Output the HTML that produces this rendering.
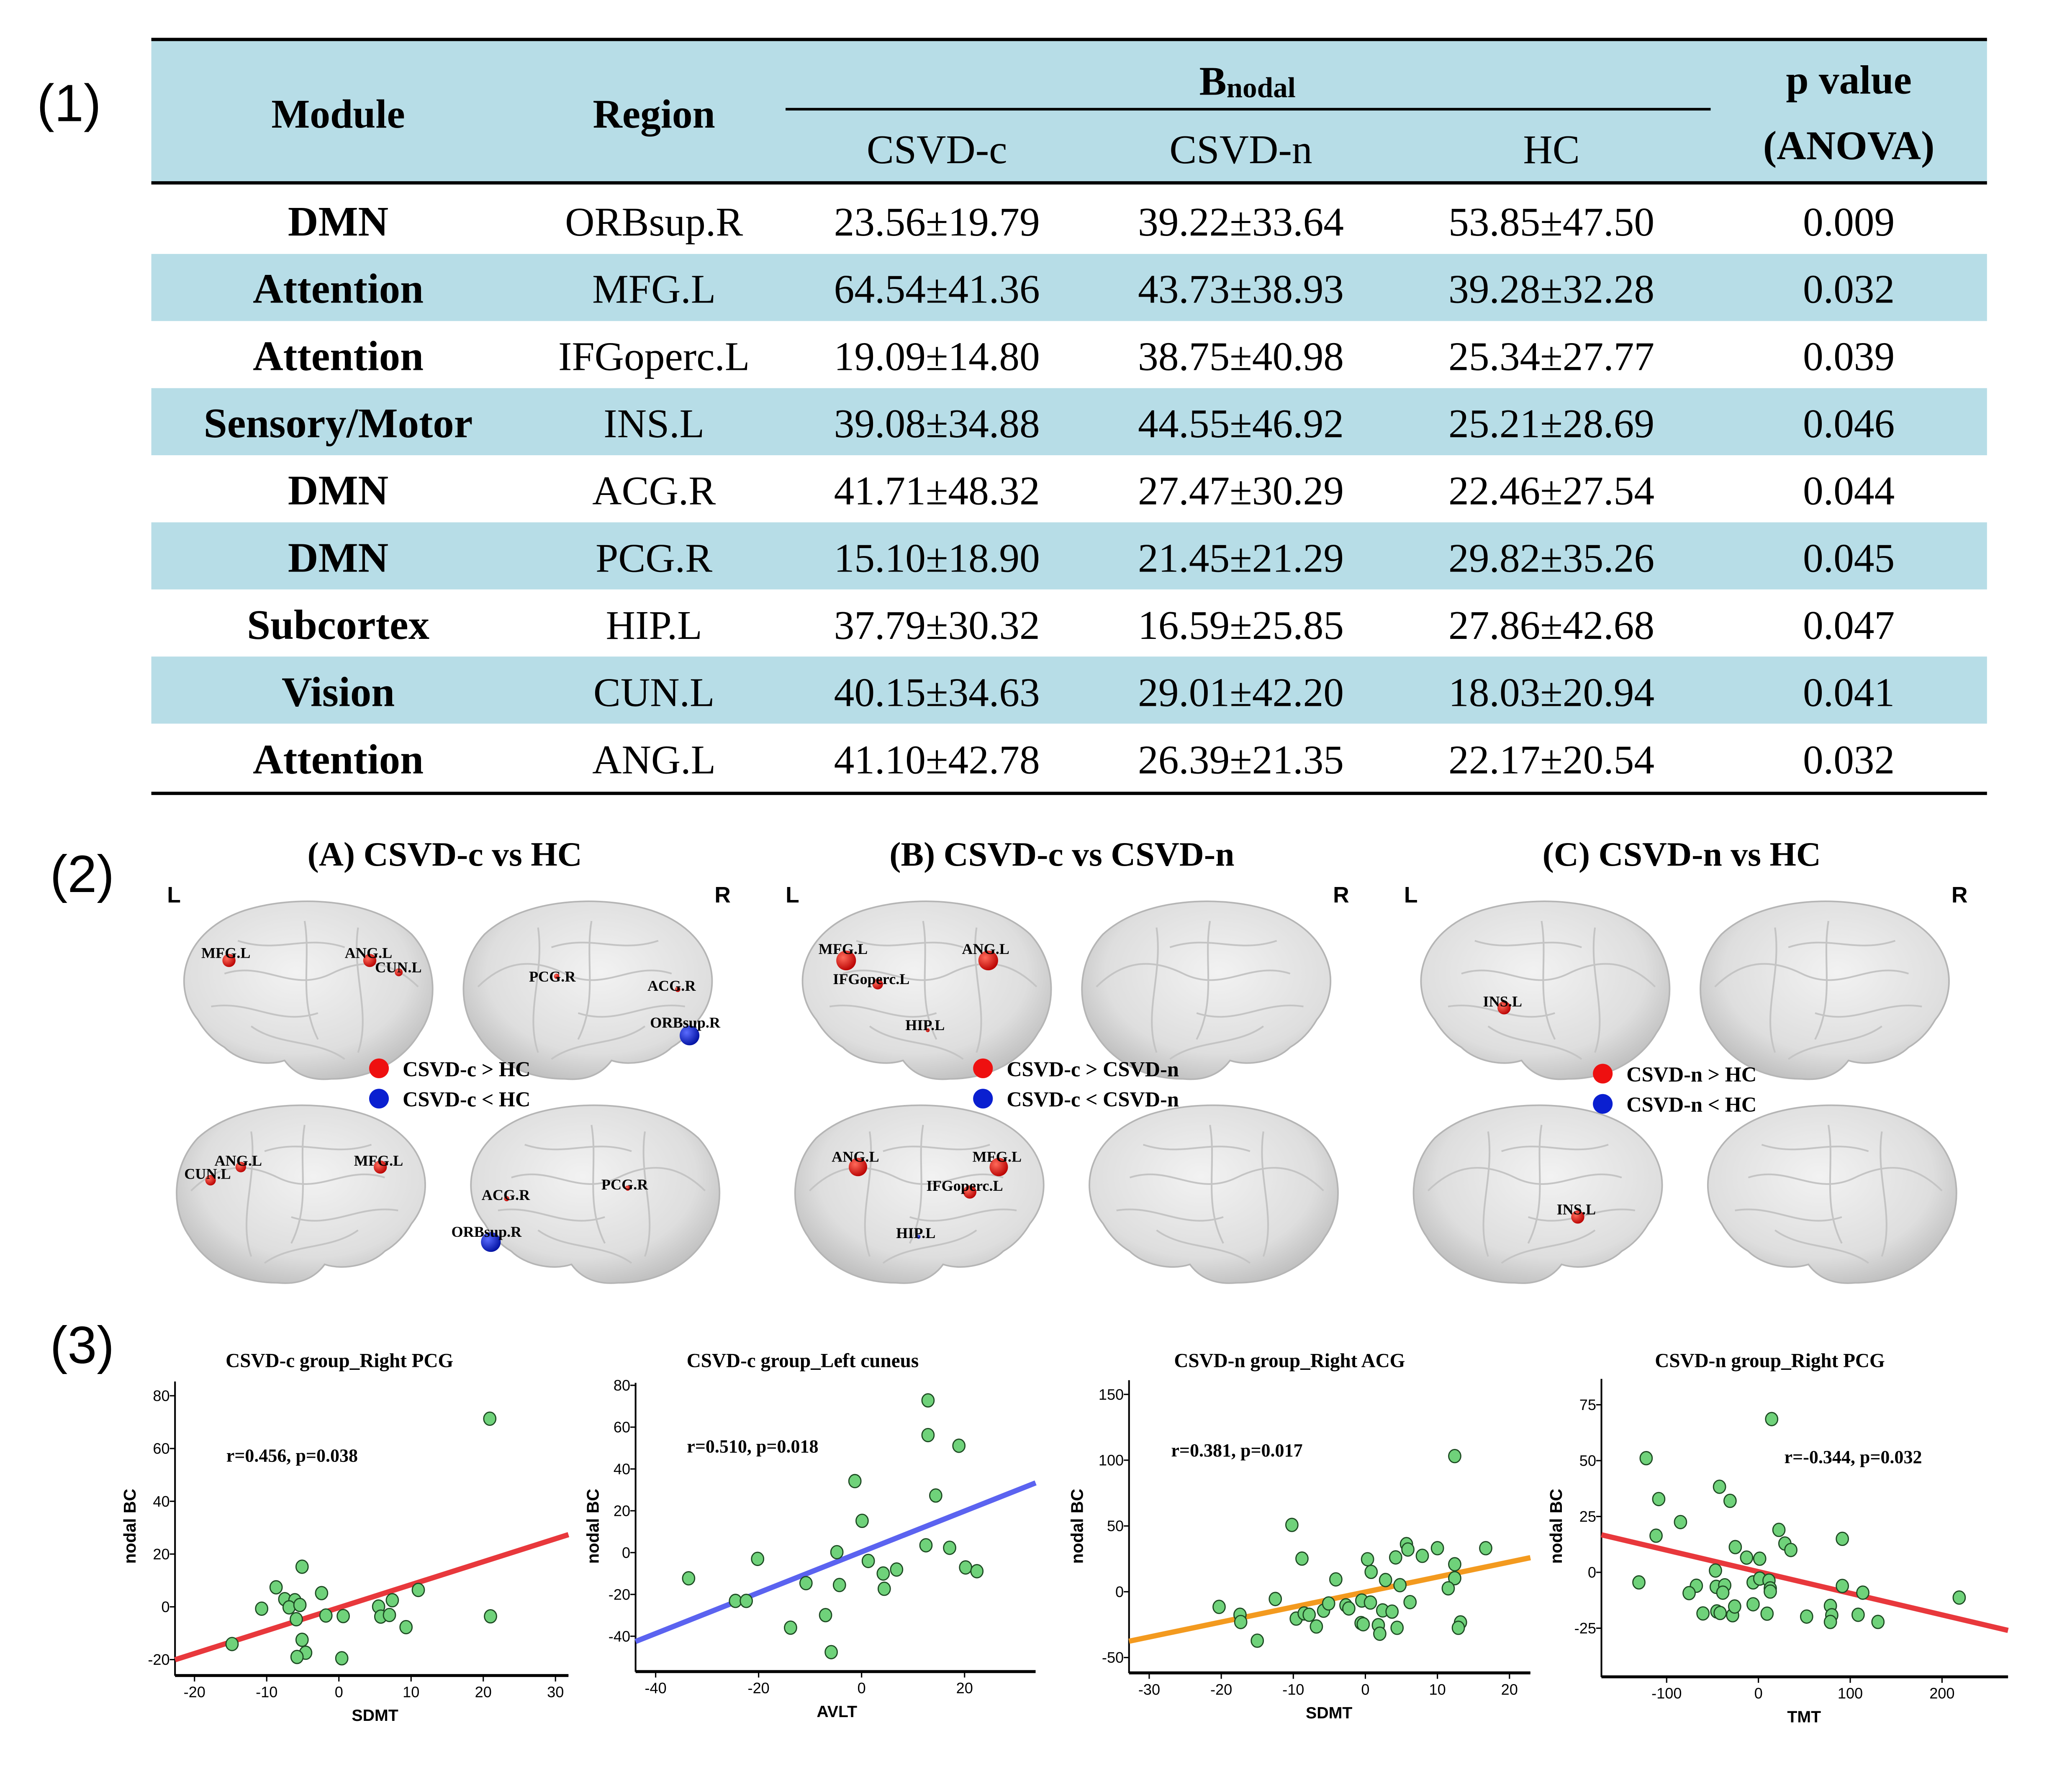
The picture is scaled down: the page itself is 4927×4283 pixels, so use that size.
<!DOCTYPE html>
<html><head><meta charset="utf-8"><style>
html,body{margin:0;padding:0;background:#fff;}
svg{display:block;}
</style></head><body>
<svg id="fig" xmlns="http://www.w3.org/2000/svg" width="4927" height="4283" viewBox="0 0 1567 1362" preserveAspectRatio="none">
<defs>
<radialGradient id="brainG" cx="45%" cy="40%" r="65%">
<stop offset="0" stop-color="#f2f2f2"/><stop offset="0.7" stop-color="#dedede"/><stop offset="1" stop-color="#bdbdbd"/>
</radialGradient>
<radialGradient id="redG" cx="35%" cy="35%" r="70%"><stop offset="0" stop-color="#ff6a5a"/><stop offset="1" stop-color="#b80000"/></radialGradient>
<radialGradient id="blueG" cx="35%" cy="35%" r="70%"><stop offset="0" stop-color="#5a6cff"/><stop offset="1" stop-color="#0010a0"/></radialGradient>
</defs>

<text x="28" y="92" font-family="Liberation Sans, sans-serif" font-size="40">(1)</text>
<g font-family="Liberation Serif, serif" font-size="31" text-anchor="middle">
<rect x="115" y="30" width="1395" height="108" fill="#b7dde7"/>
<rect x="115" y="193" width="1395" height="51" fill="#b7dde7"/>
<rect x="115" y="295" width="1395" height="51" fill="#b7dde7"/>
<rect x="115" y="397" width="1395" height="51" fill="#b7dde7"/>
<rect x="115" y="499" width="1395" height="51" fill="#b7dde7"/>
<line x1="115" y1="30" x2="1510" y2="30" stroke="#000" stroke-width="2.5"/>
<line x1="115" y1="139" x2="1510" y2="139" stroke="#000" stroke-width="2.5"/>
<line x1="597" y1="83" x2="1300" y2="83" stroke="#000" stroke-width="2"/>
<line x1="115" y1="603" x2="1510" y2="603" stroke="#000" stroke-width="2.5"/>
<text x="257" y="97" font-weight="bold">Module</text>
<text x="497" y="97" font-weight="bold">Region</text>
<text x="948" y="72" font-weight="bold">B<tspan font-size="22" dy="2">nodal</tspan></text>
<text x="712" y="124">CSVD-c</text>
<text x="943" y="124">CSVD-n</text>
<text x="1179" y="124">HC</text>
<text x="1405" y="71" font-weight="bold">p value</text>
<text x="1405" y="121" font-weight="bold">(ANOVA)</text>
<g id="tbody"></g>
</g>

<text x="38" y="678" font-family="Liberation Sans, sans-serif" font-size="40">(2)</text>
<g id="brains"></g>

<text x="38" y="1036" font-family="Liberation Sans, sans-serif" font-size="40">(3)</text>
<g id="plots"></g>
</svg>

<script>
const NS='http://www.w3.org/2000/svg';
function mk(tag,attrs,parent,txt){const e=document.createElementNS(NS,tag);for(const k in attrs)e.setAttribute(k,attrs[k]);if(txt!==undefined)e.textContent=txt;parent.appendChild(e);return e;}

const tModules=['DMN','Attention','Attention','Sensory/Motor','DMN','DMN','Subcortex','Vision','Attention'];
const tRegions=['ORBsup.R','MFG.L','IFGoperc.L','INS.L','ACG.R','PCG.R','HIP.L','CUN.L','ANG.L'];
const tCsvdC=['23.56±19.79','64.54±41.36','19.09±14.80','39.08±34.88','41.71±48.32','15.10±18.90','37.79±30.32','40.15±34.63','41.10±42.78'];
const tCsvdN=['39.22±33.64','43.73±38.93','38.75±40.98','44.55±46.92','27.47±30.29','21.45±21.29','16.59±25.85','29.01±42.20','26.39±21.35'];
const tHC=['53.85±47.50','39.28±32.28','25.34±27.77','25.21±28.69','22.46±27.54','29.82±35.26','27.86±42.68','18.03±20.94','22.17±20.54'];
const tP=['0.009','0.032','0.039','0.046','0.044','0.045','0.047','0.041','0.032'];
const tb=document.getElementById('tbody');
tModules.forEach((m,i)=>{
  const y=179+i*51.1;
  const g=mk('g',{},tb);
  
  
  let t=mk('text',{x:257,y:y,'font-weight':'bold','font-size':32},g,m);
  
  
  t=mk('text',{x:497,y:y},g,tRegions[i]);
  
  
  t=mk('text',{x:712,y:y},g,tCsvdC[i]);
  
  
  t=mk('text',{x:943,y:y},g,tCsvdN[i]);
  
  
  t=mk('text',{x:1179,y:y},g,tHC[i]);
  
  
  t=mk('text',{x:1405,y:y},g,tP[i]);
  
  
});

const bg=document.getElementById('brains');
const brainPath='M20,95 C0,70 8,28 55,12 C92,0 150,2 180,30 C200,52 200,85 186,105 C174,126 150,140 120,140 C100,142 90,133 85,126 C70,131 50,126 40,116 C30,110 24,102 20,95 Z';
const sulci='M40,60 C70,50 90,75 120,60 S170,55 185,70 M50,35 C80,45 100,30 130,40 M30,85 C60,80 80,100 110,90 M100,20 C105,50 95,80 110,110 M140,25 C135,60 150,90 140,120 M60,100 C80,115 110,110 130,125';
const bx=[[130,680,0],[348,680,1],[130,835,0],[348,835,1]];
const titles=['(A) CSVD-c vs HC','(B) CSVD-c vs CSVD-n','(C) CSVD-n vs HC'];
const titleX=[338,807,1278];
const legendText=[['CSVD-c > HC','CSVD-c < HC'],['CSVD-c > CSVD-n','CSVD-c < CSVD-n'],['CSVD-n > HC','CSVD-n < HC']];
const legendPos=[[288,812],[747,812],[1218,816]];
for(let p=0;p<3;p++){
  const off=p*470;
  const g=mk('g',{},bg);
  
  
  const tt=mk('text',{x:titleX[p],y:658,'text-anchor':'middle','font-family':'Liberation Serif, serif','font-weight':'bold','font-size':26},g,titles[p]);
  
  
  let l=mk('text',{x:127+off,y:686,'font-family':'Liberation Sans, sans-serif','font-weight':'bold','font-size':17},g,'L');
  
  
  l=mk('text',{x:543+off,y:686,'font-family':'Liberation Sans, sans-serif','font-weight':'bold','font-size':17},g,'R');
  
  
  bx.forEach((b,k)=>{
    const flip=(k===1||k===2);
    const tr=flip?`translate(${b[0]+off+203},${b[1]}) scale(-1.015,1)`:`translate(${b[0]+off},${b[1]}) scale(1.015,1)`;
    const bgp=mk('g',{transform:tr},g);
    
    
    mk('path',{d:brainPath,fill:'url(#brainG)',stroke:'#b5b5b5','stroke-width':1.2},bgp);
    mk('path',{d:sulci,fill:'none',stroke:'#c4c4c4','stroke-width':1.3},bgp);
  });
  const lp=legendPos[p];
  [0,1].forEach(j=>{
    const c=mk('circle',{cx:lp[0],cy:lp[1]+j*23,r:7.5,fill:j?'#0a1fd0':'#ee1010'},g);
    
    
    const t=mk('text',{x:lp[0]+18,y:lp[1]+j*23+6,'font-family':'Liberation Serif, serif','font-weight':'bold','font-size':16},g,legendText[p][j]);
    
    
  });
}
const nodes=[
['MFG.L',153,728,174,730,5,'r'],['ANG.L',262,728,281,730,5,'r'],['CUN.L',285,739,303,739,3,'r'],
['PCG.R',402,746,423,742,2,'r'],['ACG.R',492,753,515,752,2,'r'],['ORBsup.R',494,781,524,787,7.5,'b'],
['ANG.L',163,886,183,887,4,'r'],['CUN.L',140,896,160,897,4,'r'],['MFG.L',269,886,289,887,5,'r'],
['ACG.R',366,912,385,911,2,'r'],['PCG.R',457,904,477,903,2,'r'],['ORBsup.R',343,940,373,944,7.5,'b'],
['MFG.L',622,725,643,730,7.5,'r'],['ANG.L',731,725,751,730,7.5,'r'],['IFGoperc.L',633,748,667,748,4,'r'],['HIP.L',688,783,705,783,1.5,'r'],
['ANG.L',632,883,652,887,7,'r'],['MFG.L',739,883,759,887,7,'r'],['IFGoperc.L',704,905,737,906,5,'r'],['HIP.L',681,941,698,940,1.5,'b'],
['INS.L',1127,765,1143,766,5,'r'],['INS.L',1183,923,1199,925,5,'r']];
nodes.forEach(n=>{
  const c=mk('circle',{cx:n[3],cy:n[4],r:n[5],fill:n[6]==='r'?'url(#redG)':'url(#blueG)'},bg);
  
  
  const t=mk('text',{x:n[1],y:n[2],'font-family':'Liberation Serif, serif','font-weight':'bold','font-size':11.5},bg,n[0]);
  
  
});

const titlesP=['CSVD-c group_Right PCG','CSVD-c group_Left cuneus','CSVD-n group_Right ACG','CSVD-n group_Right PCG'];
const statsText=['r=0.456, p=0.038','r=0.510, p=0.018','r=0.381, p=0.017','r=-0.344, p=0.032'];
const xLabels=['SDMT','AVLT','SDMT','TMT'];
const xTicks1=[-20,-10,0,10,20,30], yTicks1=[-20,0,20,40,60,80];
const xTicks2=[-40,-20,0,20], yTicks2=[-40,-20,0,20,40,60,80];
const xTicks3=[-30,-20,-10,0,10,20], yTicks3=[-50,0,50,100,150];
const xTicks4=[-100,0,100,200], yTicks4=[-25,0,25,50,75];
const xs1=[20.9,-5.1,-8.7,-2.4,-7.5,-6.1,-10.7,-6.9,-5.4,-5.9,-1.8,0.6,5.5,7.4,11,5.8,7.0,9.3,21,-5.1,-4.6,-5.8,0.4,-14.8];
const ys1=[71.3,15.2,7.4,5.2,2.9,2.5,-0.7,-0.2,0.7,-4.7,-3.3,-3.5,0.1,2.5,6.4,-3.7,-3.1,-7.7,-3.6,-12.5,-17.4,-19,-19.5,-14.1];
const xs2=[12.9,12.9,18.9,-1.3,14.4,0.1,-4.8,-20.2,12.5,17.1,1.3,6.8,4.2,20.2,22.4,-33.6,-10.8,-4.3,4.4,-24.5,-22.4,-7.0,-13.8,-5.9];
const ys2=[72.8,56.2,51.1,34.2,27.3,15.2,0.2,-3.0,3.5,2.3,-4.0,-8.1,-10,-7.1,-8.9,-12.3,-14.6,-15.5,-17.3,-23.1,-23.1,-29.9,-35.9,-47.6];
const xs3=[12.4,-10.2,-8.8,0.3,0.8,-4.1,2.8,5.7,5.9,4.2,7.9,10,12.4,12.4,16.7,11.5,4.8,-12.5,-20.3,-17.4,-17.3,-15,-9.6,-8.5,-7.8,-6.8,-5.8,-5.1,-2.7,-2.3,-0.5,0.7,-0.6,-0.3,1.8,2.0,2.4,3.7,4.4,6.2,13.2,12.9];
const ys3=[103.1,50.8,25.2,24.7,15.1,9.4,8.9,36.2,32.1,26.1,27.3,33.1,20.9,10.3,33.1,2.6,5.0,-5.5,-11.5,-17.5,-23,-37.2,-20.4,-16.5,-17.5,-26.4,-14.4,-8.9,-10.3,-12.7,-6.7,-8.2,-23.8,-24.7,-25.4,-31.9,-14.2,-15.1,-27.4,-7.9,-23.3,-27.4];
const xs4=[14.4,-122.3,-108.6,-42.4,-30.9,-84.9,-111.5,22.3,91.4,-25.2,28.8,35.3,-12.9,1.4,-46.8,-130.2,-67.6,-75.5,-46,-36.7,-38.8,-5.8,1.4,11.5,12.9,12.9,91.4,113.7,-60.4,-45.3,-41.7,-28.1,-25.9,-5.8,9.4,52.5,78.4,79.9,78.4,108.6,130.2,218.7];
const ys4=[68.6,51.1,32.8,38.3,32,22.5,16.4,19,15,11.3,12.9,10,6.6,6.1,0.8,-4.5,-6,-9.3,-6.5,-5.8,-9.1,-4.5,-2.8,-3.7,-7.2,-8.6,-6.1,-9.1,-18.4,-17.5,-18.2,-19.2,-15.3,-14.3,-18.5,-19.8,-15,-19.2,-22.2,-19,-22.2,-11.3];
const slopes=[0.87,0.976,1.14,-0.0966];
const intercepts=[-0.3,0.35,-0.2,0.28];
const lineColors=['#e8383c','#5b63f0','#f39a1f','#e8383c'];

const frames=[
 {xd:[-22.7,31.8],yd:[-25.8,85.4],px:[133,432],py:[1273,1050],tx:258,ax:98,sx:172,sy:1111,xlx:285},
 {xd:[-43.9,33.8],yd:[-56.6,81.2],px:[483,787],py:[1270,1051],tx:610,ax:450,sx:522,sy:1104,xlx:636},
 {xd:[-32.8,22.9],yd:[-61.2,160.8],px:[858,1163],py:[1271,1049],tx:980,ax:818,sx:890,sy:1107,xlx:1010},
 {xd:[-171,271.9],yd:[-46.5,86.6],px:[1217,1526],py:[1274,1048],tx:1345,ax:1182,sx:1356,sy:1112,xlx:1371}];
const allX=[xs1,xs2,xs3,xs4], allY=[ys1,ys2,ys3,ys4];
const allXT=[xTicks1,xTicks2,xTicks3,xTicks4], allYT=[yTicks1,yTicks2,yTicks3,yTicks4];
const pg=document.getElementById('plots');
frames.forEach((f,i)=>{
  const sx=v=>f.px[0]+(v-f.xd[0])/(f.xd[1]-f.xd[0])*(f.px[1]-f.px[0]);
  const sy=v=>f.py[0]+(v-f.yd[0])/(f.yd[1]-f.yd[0])*(f.py[1]-f.py[0]);
  const g=mk('g',{},pg);
  
  
  let t=mk('text',{x:f.tx,y:1039,'text-anchor':'middle','font-family':'Liberation Serif, serif','font-weight':'bold','font-size':15},g,titlesP[i]);
  
  
  const ax=mk('path',{d:`M${f.px[0]},${f.py[1]} V${f.py[0]} H${f.px[1]}`,fill:'none',stroke:'#000','stroke-width':1.3},g);
  
  
  mk('line',{x1:f.px[0],y1:f.py[0]+0.8,x2:f.px[1],y2:f.py[0]+0.8,stroke:'#000','stroke-width':1.6},g);
  allXT[i].forEach(v=>{
    mk('line',{x1:sx(v),y1:f.py[0],x2:sx(v),y2:f.py[0]+5,stroke:'#000','stroke-width':1},g);
    const tl=mk('text',{x:sx(v),y:f.py[0]+17,'text-anchor':'middle','font-family':'Liberation Sans, sans-serif','font-size':11.5},g,String(v));
    
    
  });
  allYT[i].forEach(v=>{
    mk('line',{x1:f.px[0]-4,y1:sy(v),x2:f.px[0],y2:sy(v),stroke:'#000','stroke-width':1},g);
    const tl=mk('text',{x:f.px[0]-4,y:sy(v)+4,'text-anchor':'end','font-family':'Liberation Sans, sans-serif','font-size':11.5},g,String(v));
    
    
  });
  t=mk('text',{x:f.xlx,y:f.py[0]+35,'text-anchor':'middle','font-family':'Liberation Sans, sans-serif','font-weight':'bold','font-size':12.5},g,xLabels[i]);
  
  
  t=mk('text',{x:f.ax+5,y:1160,'text-anchor':'middle','font-family':'Liberation Sans, sans-serif','font-weight':'bold','font-size':13,transform:`rotate(-90 ${f.ax+5} 1160)`},g,'nodal BC');
  
  
  t=mk('text',{x:f.sx,y:f.sy,'font-family':'Liberation Serif, serif','font-weight':'bold','font-size':14},g,statsText[i]);
  
  
  const x0=f.xd[0], x1=f.xd[1];
  const ln=mk('line',{x1:sx(x0),y1:sy(slopes[i]*x0+intercepts[i]),x2:sx(x1),y2:sy(slopes[i]*x1+intercepts[i]),stroke:lineColors[i],'stroke-width':4},g);
  
  
  allX[i].forEach((xv,k)=>{
    const c=mk('ellipse',{cx:sx(xv),cy:sy(allY[i][k]),rx:4.6,ry:5,fill:'#6fd27a',stroke:'#1d4a22','stroke-width':0.9},g);
    
    
  });
});
</script>
</body></html>
